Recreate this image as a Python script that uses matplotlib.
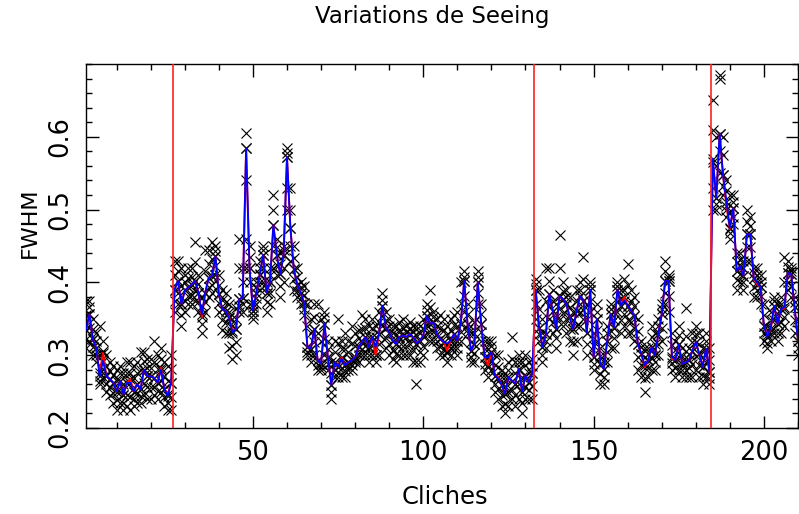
import matplotlib
matplotlib.use("Agg")
import matplotlib.pyplot as plt
from matplotlib.ticker import MultipleLocator

plt.rcParams['font.family'] = ['DejaVu Sans']

# cliche index 1..210
cliches = list(range(1, 211))

# median FWHM per cliche (blue line)
median_fwhm = [
    0.335, 0.356, 0.322, 0.310, 0.271, 0.292, 0.271, 0.267, 0.262, 0.250,
    0.264, 0.246, 0.262, 0.262, 0.250, 0.260, 0.253, 0.280, 0.271, 0.271,
    0.269, 0.262, 0.280, 0.253, 0.244, 0.262, 0.390, 0.402, 0.370, 0.389,
    0.393, 0.397, 0.402, 0.386, 0.356, 0.386, 0.406, 0.409, 0.436, 0.384,
    0.363, 0.361, 0.351, 0.331, 0.336, 0.377, 0.379, 0.584, 0.420, 0.361,
    0.386, 0.411, 0.438, 0.386, 0.400, 0.479, 0.438, 0.411, 0.438, 0.572,
    0.475, 0.418, 0.397, 0.386, 0.372, 0.311, 0.309, 0.336, 0.293, 0.288,
    0.343, 0.297, 0.259, 0.290, 0.284, 0.295, 0.286, 0.290, 0.293, 0.297,
    0.311, 0.318, 0.325, 0.311, 0.325, 0.311, 0.329, 0.368, 0.338, 0.331,
    0.320, 0.315, 0.325, 0.327, 0.325, 0.329, 0.325, 0.316, 0.320, 0.327,
    0.354, 0.343, 0.345, 0.329, 0.322, 0.318, 0.316, 0.320, 0.329, 0.320,
    0.343, 0.402, 0.343, 0.306, 0.316, 0.400, 0.343, 0.297, 0.297, 0.304,
    0.272, 0.268, 0.259, 0.247, 0.270, 0.265, 0.261, 0.281, 0.250, 0.272,
    0.263, 0.275, 0.390, 0.338, 0.311, 0.329, 0.384, 0.361, 0.336, 0.381,
    0.377, 0.370, 0.352, 0.336, 0.361, 0.381, 0.375, 0.331, 0.390, 0.297,
    0.350, 0.288, 0.281, 0.320, 0.356, 0.338, 0.390, 0.368, 0.375, 0.368,
    0.361, 0.354, 0.315, 0.302, 0.286, 0.293, 0.311, 0.300, 0.329, 0.356,
    0.402, 0.402, 0.298, 0.293, 0.315, 0.288, 0.290, 0.293, 0.306, 0.318,
    0.302, 0.284, 0.309, 0.277, 0.570, 0.516, 0.604, 0.547, 0.511, 0.475,
    0.502, 0.416, 0.422, 0.409, 0.466, 0.466, 0.406, 0.400, 0.393, 0.340,
    0.325, 0.338, 0.368, 0.343, 0.363, 0.366, 0.413, 0.411, 0.366, 0.320,
]

# mean FWHM per cliche (red line)
mean_fwhm = [
    0.335, 0.356, 0.322, 0.310, 0.275, 0.303, 0.271, 0.267, 0.262, 0.250,
    0.264, 0.246, 0.262, 0.267, 0.250, 0.260, 0.253, 0.280, 0.271, 0.271,
    0.269, 0.262, 0.283, 0.253, 0.247, 0.262, 0.390, 0.402, 0.370, 0.389,
    0.393, 0.397, 0.402, 0.386, 0.352, 0.386, 0.406, 0.409, 0.436, 0.384,
    0.363, 0.361, 0.353, 0.333, 0.336, 0.377, 0.379, 0.584, 0.420, 0.361,
    0.386, 0.410, 0.438, 0.386, 0.400, 0.479, 0.438, 0.411, 0.438, 0.572,
    0.475, 0.418, 0.397, 0.386, 0.372, 0.311, 0.309, 0.336, 0.293, 0.288,
    0.343, 0.297, 0.259, 0.290, 0.284, 0.297, 0.286, 0.290, 0.293, 0.297,
    0.311, 0.318, 0.325, 0.311, 0.325, 0.300, 0.329, 0.368, 0.338, 0.331,
    0.320, 0.315, 0.325, 0.327, 0.325, 0.329, 0.325, 0.316, 0.320, 0.327,
    0.354, 0.343, 0.345, 0.329, 0.322, 0.318, 0.306, 0.320, 0.329, 0.320,
    0.343, 0.402, 0.343, 0.306, 0.316, 0.400, 0.343, 0.297, 0.286, 0.304,
    0.272, 0.270, 0.259, 0.247, 0.270, 0.265, 0.261, 0.281, 0.250, 0.272,
    0.263, 0.275, 0.390, 0.338, 0.311, 0.329, 0.384, 0.361, 0.336, 0.381,
    0.377, 0.370, 0.352, 0.336, 0.361, 0.381, 0.375, 0.331, 0.390, 0.297,
    0.350, 0.288, 0.281, 0.320, 0.356, 0.338, 0.390, 0.368, 0.380, 0.368,
    0.361, 0.354, 0.315, 0.302, 0.283, 0.293, 0.311, 0.300, 0.329, 0.356,
    0.402, 0.402, 0.295, 0.293, 0.315, 0.288, 0.290, 0.293, 0.306, 0.318,
    0.302, 0.284, 0.309, 0.277, 0.565, 0.516, 0.604, 0.547, 0.505, 0.473,
    0.502, 0.416, 0.422, 0.409, 0.466, 0.466, 0.406, 0.397, 0.393, 0.340,
    0.328, 0.335, 0.368, 0.343, 0.363, 0.364, 0.413, 0.411, 0.366, 0.320,
]

# lowest measured FWHM per cliche
low_fwhm = [
    0.310, 0.320, 0.300, 0.290, 0.260, 0.270, 0.250, 0.245, 0.235, 0.225,
    0.235, 0.225, 0.230, 0.225, 0.230, 0.235, 0.235, 0.245, 0.240, 0.240,
    0.245, 0.240, 0.250, 0.230, 0.225, 0.225, 0.360, 0.370, 0.340, 0.360,
    0.370, 0.370, 0.375, 0.360, 0.330, 0.360, 0.380, 0.385, 0.410, 0.360,
    0.335, 0.330, 0.310, 0.295, 0.300, 0.360, 0.360, 0.420, 0.370, 0.350,
    0.370, 0.390, 0.400, 0.360, 0.370, 0.420, 0.410, 0.380, 0.400, 0.500,
    0.430, 0.390, 0.380, 0.370, 0.355, 0.300, 0.290, 0.300, 0.280, 0.280,
    0.300, 0.280, 0.240, 0.270, 0.270, 0.270, 0.270, 0.280, 0.280, 0.290,
    0.290, 0.300, 0.300, 0.290, 0.300, 0.290, 0.300, 0.340, 0.310, 0.300,
    0.295, 0.290, 0.300, 0.300, 0.300, 0.300, 0.290, 0.260, 0.290, 0.300,
    0.330, 0.320, 0.320, 0.310, 0.300, 0.300, 0.290, 0.300, 0.310, 0.300,
    0.320, 0.360, 0.330, 0.290, 0.290, 0.370, 0.320, 0.280, 0.270, 0.280,
    0.250, 0.240, 0.230, 0.220, 0.230, 0.240, 0.230, 0.240, 0.220, 0.240,
    0.240, 0.240, 0.350, 0.320, 0.290, 0.310, 0.350, 0.330, 0.310, 0.350,
    0.340, 0.330, 0.320, 0.300, 0.320, 0.340, 0.350, 0.300, 0.360, 0.280,
    0.320, 0.260, 0.260, 0.290, 0.310, 0.310, 0.360, 0.330, 0.340, 0.330,
    0.330, 0.320, 0.280, 0.270, 0.250, 0.270, 0.280, 0.280, 0.300, 0.320,
    0.370, 0.360, 0.280, 0.270, 0.280, 0.270, 0.270, 0.270, 0.270, 0.280,
    0.270, 0.260, 0.270, 0.260, 0.500, 0.500, 0.550, 0.520, 0.490, 0.460,
    0.480, 0.390, 0.400, 0.390, 0.430, 0.430, 0.380, 0.380, 0.370, 0.320,
    0.310, 0.320, 0.330, 0.320, 0.330, 0.340, 0.390, 0.380, 0.330, 0.300,
]

# lower-quartile FWHM per cliche
q1_fwhm = [
    0.322, 0.338, 0.311, 0.300, 0.265, 0.281, 0.260, 0.256, 0.248, 0.238,
    0.250, 0.235, 0.246, 0.243, 0.240, 0.248, 0.244, 0.262, 0.256, 0.256,
    0.257, 0.251, 0.265, 0.242, 0.235, 0.243, 0.375, 0.386, 0.355, 0.375,
    0.382, 0.383, 0.388, 0.373, 0.343, 0.373, 0.393, 0.397, 0.423, 0.372,
    0.349, 0.345, 0.330, 0.313, 0.318, 0.368, 0.370, 0.460, 0.400, 0.355,
    0.378, 0.400, 0.420, 0.373, 0.385, 0.450, 0.424, 0.395, 0.420, 0.530,
    0.450, 0.404, 0.388, 0.378, 0.363, 0.305, 0.300, 0.318, 0.287, 0.284,
    0.322, 0.288, 0.250, 0.280, 0.277, 0.283, 0.278, 0.285, 0.287, 0.293,
    0.300, 0.309, 0.312, 0.300, 0.312, 0.300, 0.315, 0.354, 0.324, 0.315,
    0.307, 0.302, 0.312, 0.313, 0.312, 0.315, 0.307, 0.290, 0.305, 0.313,
    0.342, 0.332, 0.332, 0.320, 0.311, 0.309, 0.303, 0.310, 0.320, 0.310,
    0.332, 0.381, 0.336, 0.298, 0.303, 0.385, 0.332, 0.288, 0.284, 0.292,
    0.261, 0.254, 0.245, 0.233, 0.250, 0.252, 0.245, 0.260, 0.235, 0.256,
    0.252, 0.258, 0.370, 0.329, 0.300, 0.320, 0.367, 0.345, 0.323, 0.365,
    0.358, 0.350, 0.336, 0.318, 0.340, 0.360, 0.362, 0.315, 0.375, 0.288,
    0.335, 0.274, 0.270, 0.305, 0.333, 0.324, 0.375, 0.349, 0.357, 0.349,
    0.345, 0.337, 0.298, 0.286, 0.268, 0.282, 0.296, 0.290, 0.315, 0.338,
    0.386, 0.381, 0.289, 0.282, 0.298, 0.279, 0.280, 0.282, 0.288, 0.299,
    0.286, 0.272, 0.290, 0.269, 0.530, 0.508, 0.580, 0.533, 0.500, 0.468,
    0.490, 0.403, 0.411, 0.400, 0.448, 0.448, 0.393, 0.390, 0.381, 0.330,
    0.317, 0.329, 0.349, 0.331, 0.346, 0.353, 0.401, 0.395, 0.348, 0.310,
]

# upper-quartile FWHM per cliche
q3_fwhm = [
    0.355, 0.366, 0.336, 0.320, 0.300, 0.306, 0.285, 0.278, 0.273, 0.265,
    0.275, 0.260, 0.276, 0.276, 0.268, 0.275, 0.279, 0.292, 0.283, 0.283,
    0.290, 0.281, 0.295, 0.271, 0.264, 0.281, 0.410, 0.416, 0.395, 0.400,
    0.406, 0.408, 0.428, 0.398, 0.368, 0.415, 0.425, 0.432, 0.443, 0.397,
    0.376, 0.373, 0.360, 0.340, 0.350, 0.420, 0.400, 0.540, 0.435, 0.366,
    0.393, 0.420, 0.444, 0.393, 0.410, 0.500, 0.449, 0.425, 0.444, 0.578,
    0.500, 0.434, 0.408, 0.393, 0.383, 0.340, 0.330, 0.353, 0.330, 0.320,
    0.352, 0.308, 0.275, 0.305, 0.317, 0.308, 0.308, 0.305, 0.317, 0.313,
    0.323, 0.336, 0.338, 0.325, 0.338, 0.325, 0.345, 0.376, 0.349, 0.340,
    0.330, 0.328, 0.335, 0.338, 0.332, 0.337, 0.332, 0.328, 0.330, 0.338,
    0.362, 0.366, 0.352, 0.340, 0.338, 0.334, 0.328, 0.335, 0.342, 0.340,
    0.372, 0.408, 0.356, 0.318, 0.330, 0.408, 0.356, 0.308, 0.308, 0.312,
    0.286, 0.284, 0.270, 0.258, 0.280, 0.295, 0.275, 0.290, 0.270, 0.286,
    0.276, 0.285, 0.398, 0.364, 0.330, 0.375, 0.402, 0.375, 0.353, 0.420,
    0.388, 0.380, 0.366, 0.348, 0.375, 0.390, 0.405, 0.350, 0.395, 0.313,
    0.360, 0.299, 0.290, 0.330, 0.363, 0.349, 0.395, 0.379, 0.390, 0.396,
    0.375, 0.367, 0.333, 0.311, 0.298, 0.302, 0.325, 0.315, 0.340, 0.363,
    0.416, 0.406, 0.314, 0.307, 0.328, 0.299, 0.327, 0.302, 0.318, 0.329,
    0.316, 0.297, 0.320, 0.294, 0.610, 0.560, 0.680, 0.575, 0.525, 0.497,
    0.511, 0.428, 0.431, 0.420, 0.483, 0.478, 0.413, 0.410, 0.401, 0.355,
    0.332, 0.349, 0.374, 0.356, 0.371, 0.400, 0.421, 0.415, 0.373, 0.335,
]

# highest measured FWHM per cliche
high_fwhm = [
    0.375, 0.375, 0.350, 0.330, 0.340, 0.320, 0.300, 0.290, 0.285, 0.280,
    0.285, 0.275, 0.290, 0.290, 0.285, 0.290, 0.305, 0.305, 0.295, 0.295,
    0.320, 0.300, 0.310, 0.290, 0.285, 0.300, 0.430, 0.430, 0.420, 0.410,
    0.420, 0.420, 0.455, 0.410, 0.380, 0.445, 0.445, 0.455, 0.450, 0.410,
    0.390, 0.385, 0.370, 0.350, 0.365, 0.460, 0.420, 0.605, 0.450, 0.370,
    0.400, 0.430, 0.450, 0.400, 0.420, 0.520, 0.460, 0.440, 0.450, 0.585,
    0.530, 0.450, 0.420, 0.400, 0.395, 0.370, 0.350, 0.370, 0.370, 0.350,
    0.360, 0.320, 0.290, 0.320, 0.350, 0.320, 0.330, 0.320, 0.340, 0.330,
    0.335, 0.355, 0.350, 0.340, 0.350, 0.340, 0.360, 0.385, 0.360, 0.350,
    0.340, 0.340, 0.345, 0.350, 0.340, 0.345, 0.340, 0.340, 0.340, 0.350,
    0.370, 0.390, 0.360, 0.350, 0.355, 0.350, 0.340, 0.350, 0.355, 0.360,
    0.400, 0.415, 0.370, 0.330, 0.345, 0.415, 0.370, 0.320, 0.320, 0.320,
    0.300, 0.300, 0.280, 0.270, 0.290, 0.325, 0.290, 0.300, 0.290, 0.300,
    0.290, 0.295, 0.405, 0.390, 0.350, 0.420, 0.420, 0.390, 0.370, 0.465,
    0.400, 0.390, 0.380, 0.360, 0.390, 0.400, 0.435, 0.370, 0.400, 0.330,
    0.370, 0.310, 0.300, 0.340, 0.370, 0.360, 0.400, 0.390, 0.405, 0.425,
    0.390, 0.380, 0.350, 0.320, 0.310, 0.310, 0.340, 0.330, 0.350, 0.370,
    0.430, 0.410, 0.330, 0.320, 0.340, 0.310, 0.365, 0.310, 0.330, 0.340,
    0.330, 0.310, 0.330, 0.310, 0.650, 0.600, 0.685, 0.600, 0.540, 0.520,
    0.520, 0.440, 0.440, 0.430, 0.500, 0.490, 0.420, 0.420, 0.410, 0.370,
    0.340, 0.360, 0.380, 0.370, 0.380, 0.435, 0.430, 0.420, 0.380, 0.350,
]

# night boundaries (between cliches)
night_breaks = [26.5, 132.5, 184.5]

title = "Variations de Seeing"
xlabel = "Cliches"
ylabel = "FWHM"

W, H = 799, 514
fig = plt.figure(figsize=(W / 100, H / 100), dpi=100)
ax = fig.add_axes([86 / W, (H - 428) / H, (798 - 86) / W, (428 - 64) / H])

# measurement crosses
for series in (low_fwhm, q1_fwhm, median_fwhm, mean_fwhm, q3_fwhm, high_fwhm):
    ax.plot(cliches, series, linestyle='none', marker='x', color='black',
            markersize=6.8, markeredgewidth=0.8, zorder=1)

ax.plot(cliches, mean_fwhm, color='#ff0000', linewidth=1.4, zorder=2)
ax.plot(cliches, median_fwhm, color='#0000ff', linewidth=1.3, zorder=3)

for xb in night_breaks:
    ax.axvline(xb, color='#ff2020', linewidth=1.2, zorder=4)

ax.set_xlim(1, 210)
ax.set_ylim(0.2, 0.7)
ax.xaxis.set_minor_locator(MultipleLocator(10))
ax.yaxis.set_minor_locator(MultipleLocator(0.02))
ax.set_yticks([0.2, 0.3, 0.4, 0.5, 0.6])
ax.set_yticklabels(['0.2', '0.3', '0.4', '0.5', '0.6'], rotation=90, va='center')
ax.set_xticks([50, 100, 150, 200])
ax.set_xticklabels(['50', '100', '150', '200'])
ax.tick_params(which='both', direction='in', top=True, right=True,
               color='black', width=1.0)
ax.tick_params(which='major', length=9)
ax.tick_params(which='minor', length=4.5)
ax.tick_params(axis='x', which='major', labelsize=18.5, pad=9)
ax.tick_params(axis='y', which='major', labelsize=18.5, pad=9)
for sp in ax.spines.values():
    sp.set_linewidth(1.0)

fig.text(432 / W, 1 - 17 / H, title, ha='center', va='center', fontsize=16.5)
fig.text(445 / W, 1 - 497 / H, xlabel, ha='center', va='center', fontsize=17.5)
fig.text(30 / W, 1 - 223 / H, ylabel, ha='center', va='center', fontsize=16,
         rotation=90)

fig.savefig('out.png', dpi=100)
